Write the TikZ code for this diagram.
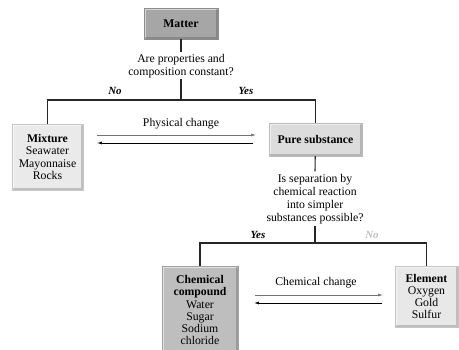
\documentclass[tikz,border=0pt]{standalone}
\usepackage{fontspec}
\setmainfont{Liberation Serif}
\usetikzlibrary{arrows.meta, positioning, shadows}
\definecolor{matterfill}{RGB}{166,166,166}
\definecolor{mixfill}{RGB}{234,234,234}
\definecolor{purefill}{RGB}{220,220,220}
\definecolor{compfill}{RGB}{190,190,190}
\definecolor{elemfill}{RGB}{232,232,232}
\definecolor{nogray}{RGB}{190,190,190}

\tikzset{
  box/.style={fill=#1, draw=#1!85!black, line width=0.4pt, align=center,
    inner sep=2pt, font=\fontsize{11.8}{12.3}\selectfont,
    drop shadow={shadow xshift=0.8pt, shadow yshift=-0.8pt, opacity=0.25},
    path picture={
      \draw[white, opacity=0.55, line width=4bp]
        (path picture bounding box.south west) -- (path picture bounding box.north west)
        -- (path picture bounding box.north east);
      \draw[black, opacity=0.18, line width=4bp]
        (path picture bounding box.north east) -- (path picture bounding box.south east)
        -- (path picture bounding box.south west);
    }},
  question/.style={align=center, font=\fontsize{11.8}{13.2}\selectfont},
  branch/.style={font=\fontsize{11}{12}\selectfont\bfseries\itshape},
  tree/.style={line width=1.1pt, black!85},
  change/.style={line width=0.7pt, -{Latex[length=5pt, width=3pt]}},
}

\begin{document}
\begin{tikzpicture}[x=1bp, y=-1bp]
  \useasboundingbox (0,0) rectangle (459,349);
  % boxes
  \node[box=matterfill, minimum width=74bp, minimum height=31bp] (matter) at (181,23.5) {\textbf{Matter}};
  \node[box=mixfill, minimum width=71bp, minimum height=66bp] (mixture) at (47.5,157) {\textbf{Mixture}\\Seawater\\Mayonnaise\\Rocks};
  \node[box=purefill, minimum width=93bp, minimum height=33bp] (pure) at (315.5,139.5) {\textbf{Pure substance}};
  \node[box=compfill, minimum width=76bp, minimum height=88bp, anchor=north] (compound) at (200,266) {\textbf{Chemical}\\\textbf{compound}\\Water\\Sugar\\Sodium\\chloride};
  \node[box=elemfill, minimum width=63bp, minimum height=61bp] (element) at (426.5,296.5) {\textbf{Element}\\Oxygen\\Gold\\Sulfur};
  % questions
  \node[question] (q1) at (181,66) {Are properties and\\composition constant?};
  \node[question] (q2) at (315,199) {Is separation by\\chemical reaction\\into simpler\\substances possible?};
  \coordinate (j1) at (181,100);
  \coordinate (j2) at (315,243);
  % tree lines
  \draw[tree] (matter) -- ([yshift=-1bp]q1.north);
  \draw[tree] ([yshift=2bp]q1.south) -- (j1);
  \draw[tree] (mixture.north) |- (j1) -| (pure.north);
  \draw[tree] (pure) -- ([yshift=-1bp]q2.north);
  \draw[tree] ([yshift=2bp]q2.south) -- (j2);
  \draw[tree] (compound.north) |- (j2) -| (element.north);
  % branch labels
  \node[branch] (no1) at (115,91) {No};
  \node[branch] (yes1) at (246,91) {Yes};
  \node[branch] (yes2) at (258,235) {Yes};
  \node[branch, nogray] (no2) at (372,235) {No};
  % physical change
  \coordinate (pa) at (97,135);
  \coordinate (pb) at (256,135);
  \coordinate (pc) at (253,143);
  \coordinate (pd) at (97,143);
  \draw[change, black!55] (pa) -- (pb);
  \draw[change] (pc) -- (pd);
  \node[question] (phys) at (181,124) {Physical change};
  % chemical change
  \coordinate (ca) at (255,295);
  \coordinate (cb) at (383,295);
  \coordinate (cc) at (382,303);
  \coordinate (cd) at (254,303);
  \draw[change, black!55] (ca) -- (cb);
  \draw[change] (cc) -- (cd);
  \node[question] (chem) at (316,283) {Chemical change};
\end{tikzpicture}
\end{document}
